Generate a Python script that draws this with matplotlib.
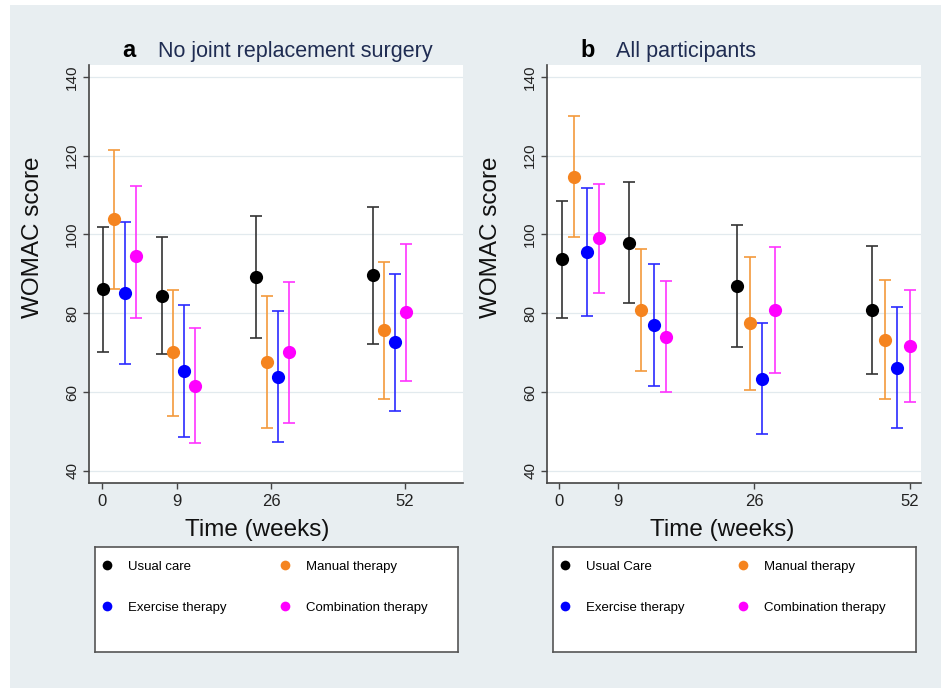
import numpy as np
import matplotlib
matplotlib.use("Agg")
import matplotlib.pyplot as plt
from matplotlib.patches import Rectangle
from matplotlib.lines import Line2D

plt.rcParams['font.family'] = ['Liberation Sans', 'DejaVu Sans']

# ---------------- data ----------------
weeks = [0, 9, 26, 52]
groups_a = ["Usual care", "Manual therapy", "Exercise therapy", "Combination therapy"]
groups_b = ["Usual Care", "Manual therapy", "Exercise therapy", "Combination therapy"]
colors = ["#000000", "#f5841f", "#0000ff", "#ff00ff"]
bar_colors = ["#333333", "#f49a3c", "#2b2bff", "#ff33ff"]

# panel a: no joint replacement surgery (rows = groups, cols = weeks)
mean_a = [[86.1, 84.5, 89.3, 89.7],
          [104.0, 70.1, 67.7, 75.8],
          [85.2, 65.4, 63.8, 72.7],
          [94.5, 61.5, 70.1, 80.3]]
lo_a = [[70.3, 69.8, 73.8, 72.3],
        [86.2, 54.0, 50.8, 58.3],
        [67.2, 48.5, 47.4, 55.1],
        [78.9, 47.0, 52.1, 62.9]]
hi_a = [[102.0, 99.3, 104.8, 107.1],
        [121.4, 86.0, 84.4, 93.0],
        [103.1, 82.1, 80.5, 90.0],
        [112.2, 76.3, 88.0, 97.6]]

# panel b: all participants
mean_b = [[93.8, 97.9, 87.0, 80.9],
          [114.7, 80.9, 77.5, 73.3],
          [95.5, 77.0, 63.3, 66.2],
          [99.0, 74.1, 80.9, 71.7]]
lo_b = [[78.9, 82.5, 71.4, 64.6],
        [99.3, 65.4, 60.5, 58.2],
        [79.3, 61.5, 49.3, 50.8],
        [85.1, 60.1, 64.8, 57.4]]
hi_b = [[108.5, 113.2, 102.5, 97.1],
        [130.0, 96.2, 94.3, 88.4],
        [111.7, 92.6, 77.5, 81.6],
        [112.9, 88.3, 96.8, 86.0]]

# x layout (axis units, the time axis is not to scale)
tick_pos_a = [13, 88, 182, 316]
centre_a = [30.7, 89.7, 183.3, 300.5]
step_a = 11.0
tick_pos_b = [12, 71, 207, 363]
centre_b = [33.3, 100.3, 209.2, 343.8]
step_b = 12.5

W, H = 941, 688
fig = plt.figure(figsize=(W / 100, H / 100), dpi=100, facecolor="white")
fig.patches.append(Rectangle((10 / W, 0), 1 - 10 / W, 1 - 5 / H, transform=fig.transFigure,
                             facecolor="#e8eef1", edgecolor="none", zorder=-10))


def panel(left, letter, title, mean, lo, hi, ticks, centres, step, labels, xlab_x):
    ax = fig.add_axes([left / W, 1 - 483 / H, 374 / W, 418 / H])
    ax.set_facecolor("white")
    offs = (np.arange(4) - 1.5) * step
    for g in range(4):
        m = np.array(mean[g])
        err = [m - np.array(lo[g]), np.array(hi[g]) - m]
        x = np.array(centres) + offs[g]
        ax.errorbar(x, m, yerr=err, fmt="none", ecolor=bar_colors[g], elinewidth=1.2,
                    capsize=4, capthick=1.2, zorder=2)
        ax.plot(x, m, "o", color=colors[g], markersize=9.5, markeredgewidth=0, zorder=3)

    ax.set_xlim(0, 374)
    ax.set_ylim(36.95, 143.0)
    ax.set_yticks(range(40, 141, 20))
    ax.set_xticks(ticks)
    ax.set_xticklabels([str(w) for w in weeks], fontsize=12, color="#222222")
    for t in ax.get_yticklabels():
        t.set_rotation(90)
        t.set_va("center")
        t.set_fontsize(11)
        t.set_color("#222222")
    ax.tick_params(axis="both", length=4, width=1, color="#444444")
    ax.tick_params(axis="y", pad=3)
    ax.tick_params(axis="x", pad=4)
    ax.grid(axis="y", color="#e2eaee", linewidth=0.9)
    ax.set_axisbelow(True)
    for s in ["top", "right"]:
        ax.spines[s].set_visible(False)
    for s in ["left", "bottom"]:
        ax.spines[s].set_color("#444444")
        ax.spines[s].set_linewidth(1.2)

    ax.set_xlabel("Time (weeks)", fontsize=17.5, va="center", color="#111111")
    ax.xaxis.set_label_coords(xlab_x, -0.1124)
    ax.set_ylabel("WOMAC score", fontsize=17.5, va="center", ha="center", color="#111111")
    ax.yaxis.set_label_coords(-56 / 374, 0.5885)

    fig.text((left + 33) / W, 1 - 56.7 / H, letter, fontsize=17, fontweight="bold",
             va="baseline", ha="left")
    fig.text((left + 69) / W, 1 - 56.7 / H, title, fontsize=15.5, color="#1f2c52",
             va="baseline", ha="left")

    # legend box
    lax = fig.add_axes([(left + 6) / W, 1 - 652 / H, 363 / W, 105 / H])
    lax.set_xticks([])
    lax.set_yticks([])
    lax.set_facecolor("white")
    for s in lax.spines.values():
        s.set_color("#555555")
        s.set_linewidth(1.2)
    handles = [Line2D([], [], marker="o", linestyle="none", color=c, markersize=7,
                      markeredgewidth=0) for c in colors]
    order = [0, 2, 1, 3]
    lax.legend([handles[i] for i in order], [labels[i] for i in order], ncol=2,
               loc="upper left", bbox_to_anchor=(0.0, 1 - 8 / 105), borderaxespad=0,
               frameon=False, fontsize=9.5, handlelength=1.0, handletextpad=1.1,
               columnspacing=3.9, labelspacing=2.2)
    return ax


panel(89, "a", "No joint replacement surgery", mean_a, lo_a, hi_a,
      tick_pos_a, centre_a, step_a, groups_a, 0.4505)
panel(547, "b", "All participants", mean_b, lo_b, hi_b,
      tick_pos_b, centre_b, step_b, groups_b, 0.469)

fig.savefig("out.png", dpi=100, facecolor=fig.get_facecolor())
